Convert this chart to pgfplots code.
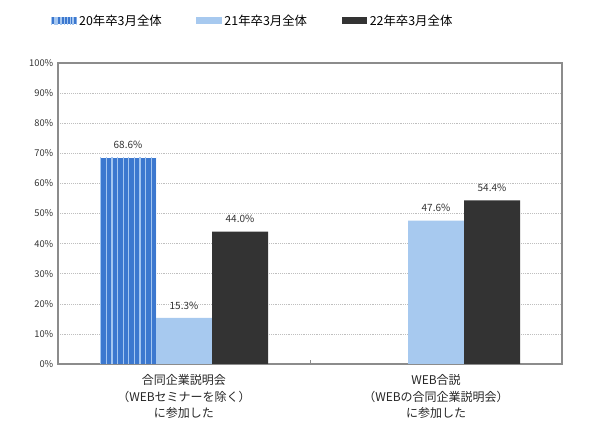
\documentclass[border=0pt]{standalone}
\usepackage{pgfplots}
\pgfplotsset{compat=1.18}
\usepackage{fontspec}
\setmainfont{Noto Sans CJK JP}
\usetikzlibrary{patterns.meta}
\definecolor{cBlue}{HTML}{3C78CF}
\definecolor{cStripe}{HTML}{A4C6F0}
\definecolor{cLight}{HTML}{A7C9EF}
\definecolor{cDark}{HTML}{333333}
\definecolor{cFrame}{HTML}{8C8C8C}
\begin{document}
\begin{tikzpicture}
\begin{axis}[
  scale only axis,
  width=378pt, height=225.75pt,
  ybar=0pt, bar width=42pt,
  xmin=-0.5, xmax=1.5,
  ymin=0, ymax=100,
  xtick={0,1},
  xticklabels={{合同企業説明会\\（WEBセミナーを除く）\\に参加した},{WEB合説\\（WEBの合同企業説明会）\\に参加した}},
  xticklabel style={align=center, font=\fontsize{9}{12.4}\selectfont, text=black!85},
  x tick style={draw=none},
  ytick={0,10,...,100},
  yticklabel={\pgfmathprintnumber{\tick}\%},
  yticklabel style={font=\fontsize{7}{8}\selectfont, text=black!80},
  /pgf/number format/assume math mode=true,
  y tick style={draw=none},
  ymajorgrids,
  grid style={densely dotted, draw=black!25},
  axis line style={draw=cFrame, line width=0.9pt},
  nodes near coords={\pgfmathprintnumber[fixed,fixed zerofill,precision=1]{\pgfplotspointmeta}\%},
  nodes near coords style={font=\fontsize{7.5}{9}\selectfont, text=black!80, yshift=3pt},
  legend style={at={(-0.022,1.14)}, anchor=west, draw=none, fill=none,
    legend columns=3, font=\fontsize{9.3}{11}\selectfont,
    /tikz/every even column/.append style={column sep=24pt}},
  legend cell align=left,
  clip=false,
]
\addplot[fill=cBlue, draw=none,
  postaction={pattern={Lines[angle=90,distance=4.2pt,line width=0.8pt]}, pattern color=cStripe},
  legend image code/.code={\fill[cBlue] (0pt,-2.6pt) rectangle (19pt,2.6pt);
    \fill[pattern={Lines[angle=90,distance=2.4pt,line width=0.5pt]}, pattern color=cStripe] (0pt,-2.6pt) rectangle (19pt,2.6pt);}]
  coordinates {(0,68.6)};
\addplot[fill=cLight, draw=none,
  legend image code/.code={\fill[cLight] (0pt,-2.6pt) rectangle (19pt,2.6pt);}]
  coordinates {(0,15.3) (1,47.6)};
\addplot[fill=cDark, draw=none,
  legend image code/.code={\fill[cDark] (0pt,-2.6pt) rectangle (19pt,2.6pt);}]
  coordinates {(0,44.0) (1,54.4)};
\legend{20年卒3月全体,21年卒3月全体,22年卒3月全体}
\draw[cFrame, line width=0.6pt] (axis cs:0.5,0) -- ++(0pt,3pt);
\coordinate (SW) at (rel axis cs:0,0);
\coordinate (NE) at (rel axis cs:1,1);
\end{axis}
\path[use as bounding box] ([shift={(-43.5pt,-53.25pt)}]SW) rectangle ([shift={(28.5pt,47.25pt)}]NE);
\end{tikzpicture}
\end{document}
